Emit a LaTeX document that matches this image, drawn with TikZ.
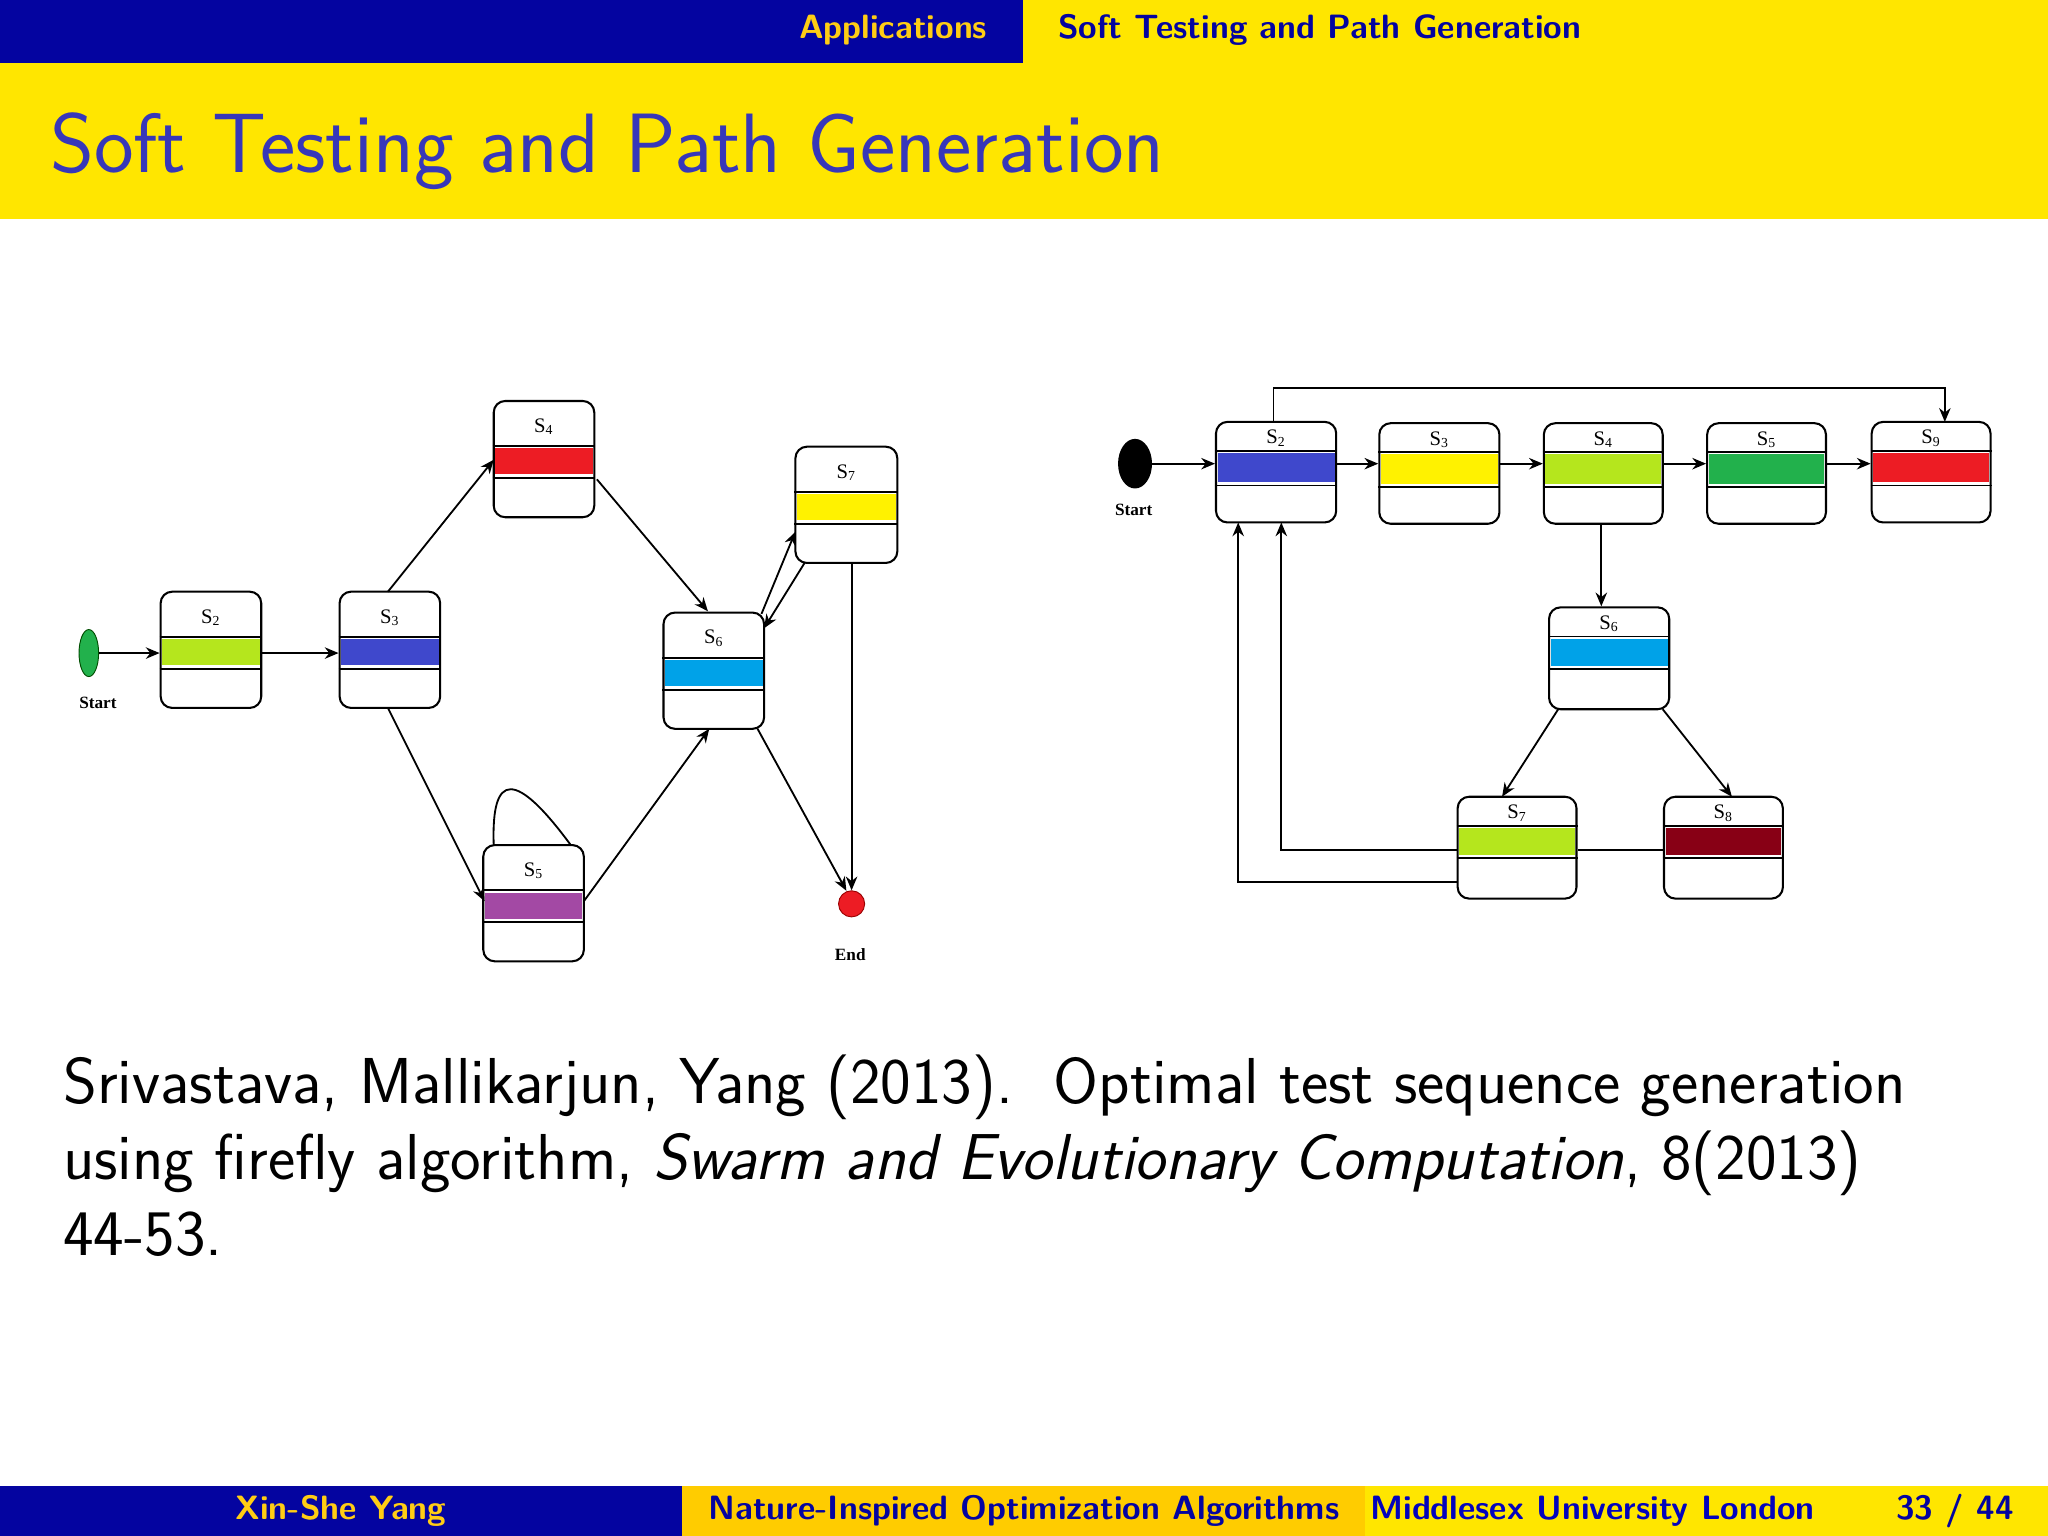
\documentclass[tikz,border=0pt]{standalone}
\usetikzlibrary{calc,arrows.meta,shapes.geometric}
\usepackage{fontspec}
\setmainfont{Liberation Serif}
\definecolor{dblue}{RGB}{4,4,160}
\definecolor{byel}{RGB}{255,230,0}
\definecolor{oyel}{RGB}{255,204,0}
\definecolor{tblue}{RGB}{55,55,185}
\definecolor{hyel}{RGB}{255,205,20}
\definecolor{plime}{RGB}{181,230,29}
\definecolor{ppurple}{RGB}{163,73,164}
\definecolor{pcyan}{RGB}{0,162,232}
\definecolor{pred}{RGB}{237,28,36}
\definecolor{pyellow}{RGB}{255,242,0}
\definecolor{pgreen}{RGB}{34,177,76}
\definecolor{pblue}{RGB}{63,72,204}
\definecolor{pmaroon}{RGB}{136,0,21}
\newcommand\stbox[9]{%
 \node[draw,line width=0.9pt,rounded corners=5pt,minimum width=#4*0.02cm,minimum height=#5*0.02cm,inner sep=0pt] (#1) at (#2,#3) {};
 \fill[#6] ($(#1.north west)!#8+0.02!(#1.south west)+(2,0)$) rectangle ($(#1.north east)!#9-0.03!(#1.south east)+(-2,0)$);
 \draw[line width=0.8pt] ($(#1.north west)!#8!(#1.south west)$) -- ($(#1.north east)!#8!(#1.south east)$);
 \draw[line width=0.8pt] ($(#1.north west)!#9!(#1.south west)$) -- ($(#1.north east)!#9!(#1.south east)$);
 \node[font=\fontsize{9}{10}\selectfont,inner sep=0pt] at ($(#1.north)!#8*0.58!(#1.south)$) {S\textsubscript{#7}};}
\tikzset{arr/.style={line width=0.8pt,-{Stealth[length=6pt,width=5pt]}},ln/.style={line width=0.8pt},
 lbl/.style={font=\fontsize{7.5}{8}\selectfont\bfseries,inner sep=0pt}}
\begin{document}
\begin{tikzpicture}[x=0.02cm,y=-0.02cm]
\useasboundingbox (0,0) rectangle (1568,1176);
\fill[white] (0,0) rectangle (1568,1176);
% header
\fill[dblue] (0,0) rectangle (783,48);
\fill[byel] (783,0) rectangle (1568,48);
\node[anchor=east,text=hyel,font=\sffamily\bfseries\fontsize{14.7}{16}\selectfont] (h1) at (762,23) {Applications};
\node[anchor=west,text=dblue,font=\sffamily\bfseries\fontsize{14.7}{16}\selectfont] (h2) at (804,23) {Soft Testing and Path Generation};
\fill[byel] (0,48) rectangle (1568,168);
\node[anchor=west,text=tblue,font=\sffamily\fontsize{36.7}{40}\selectfont,inner sep=0pt] (title) at (38,116) {Soft Testing and Path Generation};
% footer
\fill[dblue] (0,1138) rectangle (522,1176);
\fill[oyel] (522,1138) rectangle (1045,1176);
\fill[byel] (1045,1138) rectangle (1568,1176);
\node[text=hyel,font=\sffamily\bfseries\fontsize{14.7}{16}\selectfont] (f1) at (261,1157) {Xin-She Yang};
\node[text=dblue,font=\sffamily\bfseries\fontsize{14.7}{16}\selectfont] (f2) at (784,1157) {Nature-Inspired Optimization Algorithms};
\node[anchor=west,text=dblue!70!blue,font=\sffamily\bfseries\fontsize{14.7}{16}\selectfont] (f3) at (1043,1157) {Middlesex University London};
\node[anchor=east,text=dblue,font=\sffamily\bfseries\fontsize{14.7}{16}\selectfont] (f4) at (1548,1157) {33 / 44};
% citation
\begin{scope}[every node/.style={anchor=base west,inner sep=0pt,font=\sffamily\fontsize{28.3}{32}\selectfont}]
\node (c1) at (48,845) {Srivastava, Mallikarjun, Yang (2013).\ \ Optimal test sequence generation};
\node (c2) at (48,903) {using firefly algorithm, \textit{Swarm and Evolutionary Computation}, 8(2013)};
\node (c3) at (48,961) {44-53.};
\end{scope}
% left diagram
\node[ellipse,fill=pgreen,draw=green!30!black,minimum width=15*0.02cm,minimum height=36*0.02cm,inner sep=0pt] (ls) at (68,500) {};
\node[lbl] (lsl) at (75,538) {Start};
\node[circle,fill=pred,draw=red!60!black,minimum size=20*0.02cm,inner sep=0pt] (le) at (652,692) {};
\node[lbl] (lel) at (651,731) {End};
\stbox{l2}{161.5}{497.5}{77}{89}{plime}{2}{0.39}{0.66}
\stbox{l3}{298.5}{497.5}{77}{89}{pblue}{3}{0.39}{0.66}
\stbox{l4}{416.5}{351.5}{77}{89}{pred}{4}{0.39}{0.66}
\stbox{l7}{648}{386.5}{78}{89}{pyellow}{7}{0.39}{0.66}
\stbox{l6}{546.5}{513.5}{77}{89}{pcyan}{6}{0.39}{0.66}
\stbox{l5}{408.5}{691.5}{77}{89}{ppurple}{5}{0.39}{0.66}
\draw[arr] (ls.east) -- (l2.west|-ls.east);
\draw[arr] (l2.east|-ls.east) -- (l3.west|-ls.east);
\draw[arr] (297,453) -- (378,352);
\draw[arr] (457,367) -- (542,468);
\draw[arr] (297,542) -- (371,690);
\draw[arr] (447,690) -- (543,558);
\draw[arr] (583,470) -- (609,407);
\draw[arr] (616,431) -- (585,481);
\draw[arr] (580,558) -- (648,682);
\draw[arr] (652,431) -- (le.north);
\draw[ln] (378,647) .. controls (376,590) and (395,590) .. (437,647);
% right diagram
\node[ellipse,fill=black,minimum width=26*0.02cm,minimum height=38*0.02cm,inner sep=0pt] (rs) at (869,355) {};
\node[lbl] (rsl) at (868,390) {Start};
\stbox{r2}{977}{361.5}{92}{77}{pblue}{2}{0.29}{0.63}
\stbox{r3}{1102}{362.5}{92}{77}{pyellow}{3}{0.29}{0.63}
\stbox{r4}{1227.5}{362.5}{91}{77}{plime}{4}{0.29}{0.63}
\stbox{r5}{1352.5}{362.5}{91}{77}{pgreen}{5}{0.29}{0.63}
\stbox{r9}{1478.5}{361.5}{91}{77}{pred}{9}{0.29}{0.63}
\stbox{r6}{1232}{504}{92}{78}{pcyan}{6}{0.29}{0.6}
\stbox{r7}{1161.5}{649}{91}{78}{plime}{7}{0.29}{0.6}
\stbox{r8}{1319.5}{649}{91}{78}{pmaroon}{8}{0.29}{0.6}
\draw[arr] (rs.east) -- (r2.west|-rs.east);
\draw[arr] (r2.east|-rs.east) -- (r3.west|-rs.east);
\draw[arr] (r3.east|-rs.east) -- (r4.west|-rs.east);
\draw[arr] (r4.east|-rs.east) -- (r5.west|-rs.east);
\draw[arr] (r5.east|-rs.east) -- (r9.west|-rs.east);
\draw[arr] (975,323) -- (975,297) -- (1489,297) -- (1489,323);
\draw[arr] (1226,401) -- (r6.north-|1226,0);
\draw[arr] (1193,543) -- (1150,610);
\draw[arr] (1273,543) -- (1326,610);
\draw[arr] (1116,651) -- (981,651) -- (981,400);
\draw[arr] (1116,675) -- (948,675) -- (948,400);
\draw[ln] (r7.east|-0,651) -- (r8.west|-0,651);
\end{tikzpicture}
\end{document}
